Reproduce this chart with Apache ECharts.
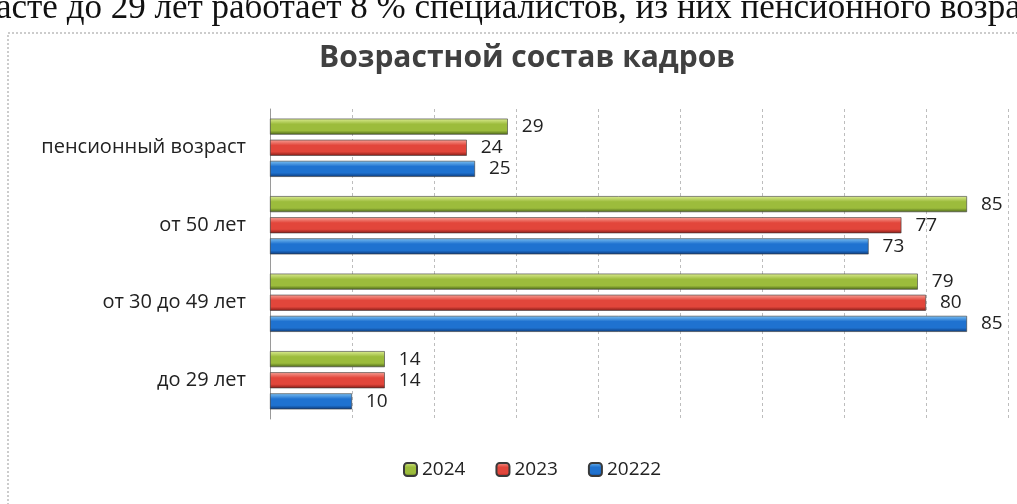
<!DOCTYPE html>
<html>
<head>
<meta charset="utf-8">
<script src="https://cdn.jsdelivr.net/npm/echarts@6/dist/echarts.min.js"></script>
<style>
  html, body { margin: 0; padding: 0; background: #fff; }
  #main { width: 1017px; height: 504px; }
</style>
</head>
<body>
<div id="main"></div>
<script>
// категории снизу вверх (как в Excel)
var categories = ['до 29 лет', 'от 30 до 49 лет', 'от 50 лет', 'пенсионный возраст'];
var values2024 = [14, 79, 85, 29];
var values2023 = [14, 80, 77, 24];
var values2022 = [10, 85, 73, 25];

var font = 'Open Sans';

function grad(top, mid, bottom) {
    return new echarts.graphic.LinearGradient(0, 0, 0, 1, [
        { offset: 0, color: top },
        { offset: 0.35, color: mid },
        { offset: 0.75, color: mid },
        { offset: 1, color: bottom }
    ]);
}

var colors = {
    '20222': grad('#7cc0f2', '#1f72d0', '#0c3a7a'),
    '2023': grad('#f7a196', '#e2463b', '#861c17'),
    '2024': grad('#dcec92', '#9cbc3c', '#4b6618')
};
var legendColors = { '2024': '#4f7a22', '2023': '#d0312c', '20222': '#1c4fb0' };

function makeSeries(name, data) {
    return {
        name: name,
        type: 'bar',
        data: data,
        barWidth: 16,
        barGap: '32%',
        itemStyle: {
            color: colors[name],
            borderColor: '#3a3a3a',
            borderWidth: 0.6
        },
        label: {
            show: true,
            position: 'right',
            distance: 14,
            color: '#222',
            fontFamily: font,
            fontSize: 19
        }
    };
}

var myChart = echarts.init(document.getElementById('main'));

var option = {
    animation: false,
    color: [legendColors['2024'], legendColors['2023'], legendColors['20222']],
    title: {
        text: 'Возрастной состав кадров',
        left: 314,
        top: 38,
        textStyle: {
            fontFamily: font,
            fontSize: 30,
            fontWeight: 'bold',
            color: '#404040'
        }
    },
    legend: {
        left: 398,
        top: 455,
        itemWidth: 13,
        itemHeight: 13,
        itemGap: 30,
        textStyle: { fontFamily: font, fontSize: 19, color: '#222' }
    },
    grid: {
        left: 270,
        right: 9,
        top: 109,
        bottom: 85,
        containLabel: false
    },
    xAxis: {
        type: 'value',
        min: 0,
        max: 90,
        interval: 10,
        axisLabel: { show: false },
        axisLine: { show: false },
        axisTick: { show: false },
        splitLine: { lineStyle: { color: '#bdbdbd', type: [3, 3], width: 1 } }
    },
    yAxis: {
        type: 'category',
        data: categories,
        axisLine: { lineStyle: { color: '#9a9a9a' } },
        axisTick: { show: false },
        axisLabel: {
            margin: 24,
            fontFamily: font,
            fontSize: 20,
            color: '#222'
        }
    },
    series: [
        makeSeries('2024', values2024),
        makeSeries('2023', values2023),
        makeSeries('20222', values2022)
    ],
    graphic: [
        {
            type: 'rect',
            shape: { x: 8, y: 33, width: 1040, height: 500 },
            style: { fill: 'none', stroke: '#999', lineWidth: 1, lineDash: [2, 2] },
            silent: true
        },
        {
            type: 'text',
            left: -4,
            top: -9,
            style: {
                text: 'асте до 29 лет работает 8 % специалистов, из них пенсионного возра',
                fontFamily: 'Liberation Serif',
                fontSize: 35,
                fill: '#111'
            }
        }
    ]
};

myChart.setOption(option);
</script>
</body>
</html>
